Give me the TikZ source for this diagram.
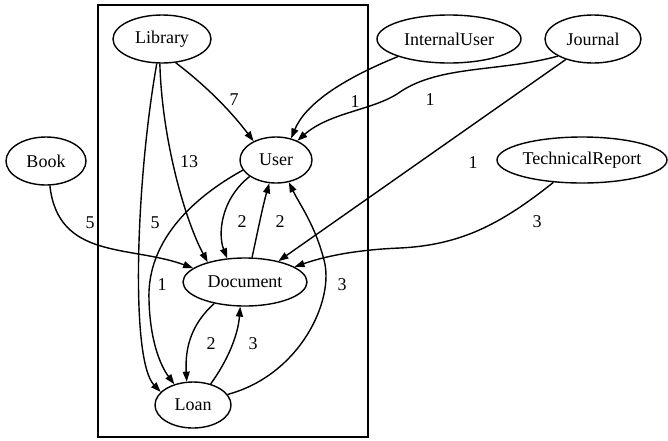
\documentclass[tikz,border=0pt]{standalone}
\usepackage{fontspec}
\setmainfont{Liberation Serif}
\usetikzlibrary{shapes.geometric,arrows.meta}
\begin{document}
\begin{tikzpicture}[x=1pt,y=-1pt,
  ent/.style={ellipse,draw,line width=1.4pt,inner sep=0pt,font=\fontsize{18}{20}\selectfont},
  lbl/.style={inner sep=0pt,font=\fontsize{18}{20}\selectfont},
  edge/.style={line width=1.4pt,-{Triangle[length=10pt,width=7pt]}}]
\useasboundingbox (0,0) rectangle (668,440);
\draw[line width=1.4pt] (98,5) rectangle (368,437);
% nodes
\node[ent,minimum width=98pt,minimum height=48pt] (Library) at (162,39) {Library};
\node[ent,minimum width=72pt,minimum height=46pt] (User) at (276,160) {User};
\node[ent,minimum width=144pt,minimum height=48pt] (InternalUser) at (449,39) {InternalUser};
\node[ent,minimum width=96pt,minimum height=48pt] (Journal) at (593,39) {Journal};
\node[ent,minimum width=170pt,minimum height=46pt] (TechnicalReport) at (582,160) {TechnicalReport};
\node[ent,minimum width=80pt,minimum height=48pt] (Book) at (46,161) {Book};
\node[ent,minimum width=124pt,minimum height=48pt] (Document) at (245,282) {Document};
\node[ent,minimum width=76pt,minimum height=46pt] (Loan) at (193,405) {Loan};
% edges
\draw[edge] (Library.-60) .. controls (205,85) and (230,110) .. (User.140);
\draw[edge] (Library.-95) .. controls (162,140) and (185,220) .. (Document.152);
\draw[edge] (Library.-102) .. controls (136,180) and (130,360) .. (Loan.158);
\draw[edge] (Book.-81) .. controls (58,260) and (130,245) .. (Document.165);
\draw[edge] (User.-148) .. controls (220,200) and (218,235) .. (Document.127);
\draw[edge] (Document.74) .. controls (258,230) and (263,205) .. (User.-106);
\draw[edge] (Loan.17) .. controls (300,375) and (335,300) .. (324,260) .. controls (315,225) and (300,205) .. (User.-60);
\draw[edge] (User.-163) .. controls (180,205) and (147,250) .. (149,300) .. controls (150,340) and (160,365) .. (Loan.132);
\draw[edge] (Document.-145) .. controls (190,325) and (185,350) .. (Loan.105);
\draw[edge] (Loan.50) .. controls (228,360) and (238,335) .. (Document.-101);
\draw[edge] (InternalUser.-161) .. controls (340,80) and (305,105) .. (User.55);
\draw[edge] (Journal.-154) .. controls (500,72) and (440,65) .. (400,92) .. controls (375,110) and (330,112) .. (User.42);
\draw[edge] (Journal.-143) -- (Document.32);
\draw[edge] (TechnicalReport.-142) .. controls (500,225) and (460,245) .. (400,248) .. controls (350,250) and (320,258) .. (Document.17);
% labels
\node[lbl] (l7) at (234,100) {7};
\node[lbl] (l13) at (189,162) {13};
\node[lbl] (l5a) at (155,223) {5};
\node[lbl] (l5b) at (90,223) {5};
\node[lbl] (l2a) at (242,222) {2};
\node[lbl] (l2b) at (280,222) {2};
\node[lbl] (l1a) at (162,285) {1};
\node[lbl] (l3a) at (342,285) {3};
\node[lbl] (l2c) at (211,344) {2};
\node[lbl] (l3b) at (253,344) {3};
\node[lbl] (l1b) at (355,102) {1};
\node[lbl] (l1c) at (430,100) {1};
\node[lbl] (l1d) at (473,163) {1};
\node[lbl] (l3c) at (537,222) {3};
\end{tikzpicture}
\end{document}
